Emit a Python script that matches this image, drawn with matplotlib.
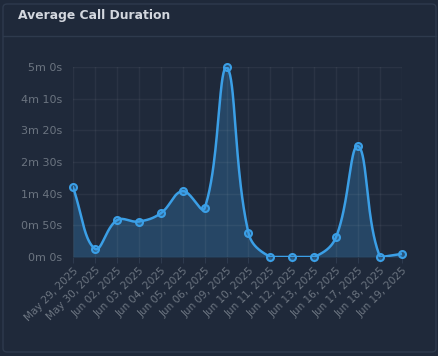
import matplotlib.pyplot as plt
import numpy as np
from matplotlib.patches import FancyBboxPatch

# values (seconds)
dates = ["May 29, 2025", "May 30, 2025", "Jun 02, 2025", "Jun 03, 2025",
         "Jun 04, 2025", "Jun 05, 2025", "Jun 06, 2025", "Jun 09, 2025",
         "Jun 10, 2025", "Jun 11, 2025", "Jun 12, 2025", "Jun 13, 2025",
         "Jun 16, 2025", "Jun 17, 2025", "Jun 18, 2025", "Jun 19, 2025"]
durations = [110, 13, 58, 56, 69, 104, 77, 300, 38, 0, 0, 0, 32, 175, 0, 5]
y_ticks = [0, 50, 100, 150, 200, 250, 300]

BG = "#1f293a"
LINE = "#3b9fe6"
TEXT_DIM = "#6b7480"
Y_MAX = 300


def bezier_curve(x, y, sx, sy, tension=0.4, n=40):
    # chart.js style spline: control points from neighbours, capped to the area
    px = np.asarray(x, float) * sx
    py = np.asarray(y, float) * sy
    k = len(px)
    c_in = np.zeros((k, 2))
    c_out = np.zeros((k, 2))
    for i in range(k):
        p0 = (px[max(i - 1, 0)], py[max(i - 1, 0)])
        p2 = (px[min(i + 1, k - 1)], py[min(i + 1, k - 1)])
        d01 = np.hypot(px[i] - p0[0], py[i] - p0[1])
        d12 = np.hypot(p2[0] - px[i], p2[1] - py[i])
        tot = d01 + d12
        s01 = d01 / tot if tot else 0
        s12 = d12 / tot if tot else 0
        fa, fb = tension * s01, tension * s12
        dx, dy = p2[0] - p0[0], p2[1] - p0[1]
        c_in[i] = (px[i] - fa * dx, py[i] - fa * dy)
        c_out[i] = (px[i] + fb * dx, py[i] + fb * dy)
    c_in[:, 1] = np.clip(c_in[:, 1], 0, Y_MAX * sy)
    c_out[:, 1] = np.clip(c_out[:, 1], 0, Y_MAX * sy)
    c_in[:, 0] = np.clip(c_in[:, 0], px[0], px[-1])
    c_out[:, 0] = np.clip(c_out[:, 0], px[0], px[-1])
    xs, ys = [], []
    t = np.linspace(0, 1, n, endpoint=False)[:, None]
    for i in range(k - 1):
        p0 = np.array([px[i], py[i]])
        p3 = np.array([px[i + 1], py[i + 1]])
        seg = ((1 - t) ** 3 * p0 + 3 * (1 - t) ** 2 * t * c_out[i]
               + 3 * (1 - t) * t ** 2 * c_in[i + 1] + t ** 3 * p3)
        xs.append(seg[:, 0])
        ys.append(seg[:, 1])
    xs.append([px[-1]])
    ys.append([py[-1]])
    return np.concatenate(xs) / sx, np.concatenate(ys) / sy


fig = plt.figure(figsize=(4.38, 3.56), dpi=100, facecolor=BG)

# card outline and header separator
card = FancyBboxPatch((3 / 438, 4 / 356), 433 / 438, 348 / 356,
                      boxstyle="round,pad=0,rounding_size=0.01",
                      transform=fig.transFigure, facecolor="none",
                      edgecolor="#2e3a4d", linewidth=1)
fig.patches.append(card)
fig.add_artist(plt.Line2D([3 / 438, 436 / 438], [1 - 36 / 356] * 2,
                          transform=fig.transFigure, color="#2e3a4d", lw=1))
fig.text(18 / 438, 1 - 16 / 356, "Average Call Duration", color="#d3d7de",
         fontsize=8.9, fontweight="bold", va="center", ha="left")

ax = fig.add_axes([73 / 438, 1 - 257 / 356, 329 / 438, 190 / 356])
ax.set_facecolor(BG)

x = np.arange(len(dates))
# pixel scale of the plot area (for spline distances)
sx = 329 / (len(dates) - 1)
sy = 190 / Y_MAX
cx, cy = bezier_curve(x, durations, sx, sy)
ax.fill_between(cx, cy, 0, color=LINE, alpha=0.25, linewidth=0)
ax.plot(cx, cy, color=LINE, lw=1.8)
ax.plot(x, durations, "o", ms=5, mfc=(0.23, 0.62, 0.9, 0.35), mec=LINE, mew=1.5,
        clip_on=False)

ax.set_xlim(0, len(dates) - 1)
ax.set_ylim(0, Y_MAX)
ax.set_yticks(y_ticks)
ax.set_yticklabels([f"{v // 60}m {v % 60}s" for v in y_ticks])
ax.set_xticks(x)
ax.set_xticklabels(dates, rotation=45, ha="right", rotation_mode="anchor")

ax.grid(True, color="#ffffff", alpha=0.05, lw=1)
for s in ax.spines.values():
    s.set_visible(False)
ax.tick_params(axis="y", length=0, pad=8, labelsize=8, labelcolor=TEXT_DIM)
ax.tick_params(axis="x", length=4, color="#2e3a4d", pad=2, labelsize=7.5,
               labelcolor=TEXT_DIM)

fig.savefig("out.png", dpi=100, facecolor=BG)
